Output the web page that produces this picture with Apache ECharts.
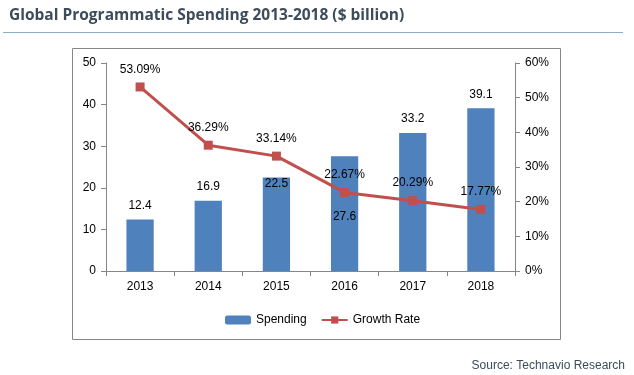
<!DOCTYPE html>
<html>
<head>
<meta charset="utf-8">
<script src="https://cdn.jsdelivr.net/npm/echarts@6/dist/echarts.min.js"></script>
<style>
  html, body { margin: 0; padding: 0; background: #fff; }
  #chart { width: 634px; height: 375px; }
</style>
</head>
<body>
<div id="chart"></div>
<script>
  // Values
  const YEARS = ["2013", "2014", "2015", "2016", "2017", "2018"];
  const SPENDING = [12.4, 16.9, 22.5, 27.6, 33.2, 39.1];
  const GROWTH = [53.09, 36.29, 33.14, 22.67, 20.29, 17.77];

  const COL_BAR = "#4f81bd";
  const COL_LINE = "#c0504d";
  const COL_AXIS = "#868686";
  const FONT = "Liberation Sans";

  const chart = echarts.init(document.getElementById("chart"), null, { renderer: "canvas" });

  // most bar labels sit above the bar; two are placed inside as in the source
  const barData = SPENDING.map((v, i) => {
    if (i === 2) return { value: v, label: { position: "insideTop", distance: 0 } };
    if (i === 3) return { value: v, label: { position: "insideTop", distance: 55 } };
    return v;
  });

  const option = {
    animation: false,
    backgroundColor: "#fff",
    textStyle: { fontFamily: FONT },

    title: {
      text: "Global Programmatic Spending 2013-2018 ($ billion)",
      left: 4,
      top: 3,
      textStyle: { fontFamily: "Open Sans", fontWeight: "bold", fontSize: 15.5, color: "#3d4b5b" }
    },

    graphic: [
      { type: "line", shape: { x1: 3, y1: 32.5, x2: 623, y2: 32.5 },
        style: { stroke: "#8eaec6", lineWidth: 1 }, silent: true },
      { type: "rect", shape: { x: 72.5, y: 48.5, width: 488, height: 291 },
        style: { fill: "none", stroke: COL_AXIS, lineWidth: 1 }, silent: true },
      { type: "text", right: 9, top: 360,
        style: { text: "Source: Technavio Research", fill: "#3d4b5b", font: "12px " + FONT } }
    ],

    grid: { left: 106, right: 119, top: 63, bottom: 104, containLabel: false },

    legend: {
      left: 220,
      top: 309,
      itemWidth: 26,
      itemHeight: 9,
      itemGap: 14,
      textStyle: { fontFamily: FONT, fontSize: 12, color: "#000" },
      data: ["Spending", "Growth Rate"]
    },

    xAxis: {
      type: "category",
      data: YEARS,
      axisLine: { lineStyle: { color: COL_AXIS } },
      axisTick: { show: true, alignWithLabel: false, length: 5, inside: false, lineStyle: { color: COL_AXIS } },
      axisLabel: { color: "#000", fontSize: 12, margin: 10, fontFamily: FONT },
      splitLine: { show: false }
    },

    yAxis: [
      {
        type: "value",
        min: 0, max: 50, interval: 10,
        axisLine: { show: true, lineStyle: { color: COL_AXIS } },
        axisTick: { show: true, length: 5, lineStyle: { color: COL_AXIS } },
        axisLabel: { color: "#000", fontSize: 12, margin: 10, fontFamily: FONT },
        splitLine: { show: false }
      },
      {
        type: "value",
        min: 0, max: 60, interval: 10,
        position: "right",
        axisLine: { show: true, lineStyle: { color: COL_AXIS } },
        axisTick: { show: true, length: 5, lineStyle: { color: COL_AXIS } },
        axisLabel: { color: "#000", fontSize: 12, margin: 10, fontFamily: FONT, formatter: "{value}%" },
        splitLine: { show: false }
      }
    ],

    series: [
      {
        name: "Spending",
        type: "bar",
        data: barData,
        barWidth: "40%",
        itemStyle: { color: COL_BAR },
        label: { show: true, position: "top", distance: 8, color: "#000", fontSize: 12, fontFamily: FONT }
      },
      {
        name: "Growth Rate",
        type: "line",
        yAxisIndex: 1,
        data: GROWTH,
        symbol: "rect",
        symbolSize: 9,
        lineStyle: { color: COL_LINE, width: 3 },
        itemStyle: { color: COL_LINE },
        label: {
          show: true, position: "top", distance: 7, color: "#000", fontSize: 12, fontFamily: FONT,
          formatter: (p) => p.value.toFixed(2) + "%"
        }
      }
    ]
  };

  chart.setOption(option);
</script>
</body>
</html>
